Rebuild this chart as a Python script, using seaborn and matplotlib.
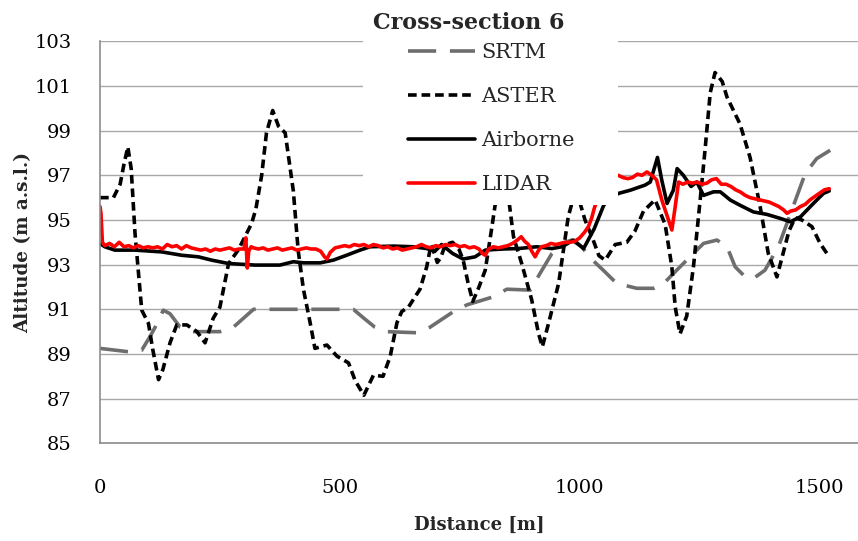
import matplotlib
matplotlib.use("Agg")
import matplotlib.pyplot as plt
from matplotlib.patches import Rectangle
import seaborn as sns
import pandas as pd

# ---- profile data: distance along section [m] and altitude [m a.s.l.] ----
srtm_distance = [0, 59, 87, 104, 115, 132, 146, 167, 195, 250, 278, 320, 354, 528, 550,
                 573, 598, 660, 688, 737, 765, 820, 848, 897, 917, 942, 963, 983, 1004,
                 1022, 1049, 1077, 1119, 1154, 1175, 1202, 1230, 1258, 1286, 1307, 1324,
                 1345, 1362, 1386, 1414, 1442, 1470, 1494, 1522]
srtm_altitude = [89.25, 89.1, 89.17, 89.77, 90.2, 90.96, 90.8, 90.2, 90.0, 90.0, 90.2, 91.0,
                 91.0, 91.0, 90.6, 90.2, 90.0, 89.95, 90.2, 90.9, 91.2, 91.56, 91.9, 91.86,
                 92.6, 93.5, 93.95, 94.1, 93.8, 93.3, 92.75, 92.16, 91.94, 91.94, 92.16,
                 92.75, 93.35, 93.95, 94.1, 93.8, 92.9, 92.45, 92.38, 92.75, 93.8, 95.44,
                 97.08, 97.75, 98.12]

aster_distance = [0, 28, 42, 50, 58, 65, 73, 87, 101, 110, 122, 131, 146, 160, 181, 202, 219,
                  236, 250, 268, 288, 316, 325, 337, 347, 360, 372, 386, 403, 413, 424, 438,
                  448, 473, 494, 518, 532, 550, 570, 590, 605, 619, 629, 643, 667, 681, 690,
                  697, 703, 710, 720, 735, 748, 757, 767, 777, 790, 803, 817, 830, 848, 862,
                  879, 900, 914, 922, 935, 956, 966, 976, 988, 1000, 1011, 1028, 1040, 1053,
                  1074, 1098, 1115, 1133, 1157, 1178, 1192, 1199, 1209, 1223, 1237, 1251,
                  1261, 1272, 1282, 1297, 1307, 1334, 1355, 1376, 1393, 1411, 1422, 1436,
                  1449, 1463, 1484, 1501, 1520]
aster_altitude = [96.0, 96.0, 96.6, 97.5, 98.27, 97.3, 94.4, 90.96, 90.37, 89.2, 87.85, 88.3,
                  89.5, 90.3, 90.3, 90.0, 89.5, 90.6, 91.1, 93.05, 93.65, 94.84, 95.5, 97.0,
                  98.9, 99.9, 99.2, 98.9, 96.3, 93.65, 91.9, 90.4, 89.25, 89.4, 88.9, 88.6,
                  87.8, 87.15, 88.05, 88.0, 88.9, 90.4, 90.9, 91.1, 91.9, 92.9, 93.9, 93.5,
                  93.1, 93.3, 93.9, 94.0, 93.7, 93.2, 92.2, 91.35, 92.0, 92.75, 94.7, 96.6,
                  96.6, 94.24, 93.05, 91.41, 89.92, 89.32, 90.37, 92.16, 93.65, 95.14, 96.1,
                  95.8, 95.0, 94.1, 93.4, 93.2, 93.9, 94.0, 94.5, 95.4, 95.9, 94.8, 92.9,
                  91.1, 89.9, 90.7, 92.9, 95.9, 98.1, 100.7, 101.6, 101.2, 100.5, 99.3, 97.8,
                  95.6, 93.5, 92.45, 93.35, 94.5, 95.1, 95.0, 94.7, 93.95, 93.35]

airborne_distance = [0, 10, 31, 73, 129, 170, 205, 233, 268, 323, 375, 403, 424, 459, 486,
                     514, 542, 563, 612, 653, 681, 698, 712, 735, 757, 782, 803, 840, 872,
                     910, 942, 963, 987, 1008, 1030, 1050, 1065, 1081, 1105, 1136, 1147,
                     1162, 1171, 1182, 1195, 1203, 1216, 1232, 1244, 1258, 1279, 1293, 1314,
                     1334, 1362, 1390, 1418, 1439, 1460, 1487, 1508, 1520]
airborne_altitude = [93.95, 93.8, 93.65, 93.65, 93.57, 93.42, 93.35, 93.2, 93.05, 92.98,
                     92.98, 93.13, 93.08, 93.08, 93.2, 93.42, 93.65, 93.8, 93.83, 93.8, 93.72,
                     93.6, 93.9, 93.5, 93.25, 93.35, 93.65, 93.7, 93.72, 93.8, 93.72, 93.8,
                     94.1, 93.72, 94.6, 95.66, 96.0, 96.19, 96.33, 96.56, 96.7, 97.8, 96.78,
                     95.74, 96.33, 97.3, 97.0, 96.5, 96.7, 96.1, 96.26, 96.26, 95.89, 95.66,
                     95.36, 95.25, 95.07, 94.92, 95.14, 95.74, 96.19, 96.3]

lidar_distance = [0, 2, 5, 10, 20, 30, 40, 50, 60, 70, 80, 90, 100, 110, 120, 130, 140, 150,
                  160, 170, 180, 190, 200, 210, 220, 230, 240, 250, 260, 270, 280, 290, 300,
                  304, 307, 310, 315, 320, 330, 340, 350, 360, 370, 380, 390, 400, 410, 420,
                  430, 440, 450, 460, 468, 473, 480, 490, 500, 510, 520, 530, 540, 550, 560,
                  570, 580, 590, 600, 610, 620, 630, 640, 650, 660, 670, 680, 690, 700, 710,
                  720, 730, 740, 750, 760, 770, 780, 790, 797, 803, 810, 820, 830, 840, 850,
                  860, 870, 878, 885, 893, 900, 907, 913, 920, 930, 940, 950, 960, 970, 980,
                  990, 1000, 1010, 1018, 1025, 1030, 1036, 1045, 1060, 1070, 1080, 1090, 1100,
                  1110, 1120, 1130, 1140, 1150, 1160, 1171, 1185, 1192, 1199, 1206, 1215,
                  1225, 1235, 1245, 1255, 1265, 1275, 1285, 1295, 1305, 1315, 1325, 1335,
                  1345, 1355, 1365, 1375, 1385, 1395, 1405, 1415, 1425, 1432, 1440, 1450,
                  1460, 1470, 1480, 1490, 1500, 1510, 1520]
lidar_altitude = [95.6, 95.3, 94.0, 93.85, 93.95, 93.8, 94.0, 93.8, 93.85, 93.75, 93.85, 93.75,
                  93.8, 93.75, 93.8, 93.7, 93.9, 93.8, 93.85, 93.7, 93.85, 93.75, 93.7, 93.65,
                  93.7, 93.6, 93.7, 93.65, 93.7, 93.75, 93.65, 93.7, 93.7, 94.2, 92.85, 93.6,
                  93.8, 93.75, 93.7, 93.75, 93.65, 93.7, 93.75, 93.65, 93.7, 93.75, 93.65,
                  93.7, 93.75, 93.7, 93.7, 93.6, 93.35, 93.25, 93.55, 93.75, 93.8, 93.85, 93.8,
                  93.9, 93.85, 93.9, 93.8, 93.9, 93.85, 93.75, 93.8, 93.7, 93.75, 93.65, 93.7,
                  93.75, 93.8, 93.9, 93.8, 93.75, 93.85, 93.8, 93.9, 93.85, 93.9, 93.8, 93.85,
                  93.75, 93.8, 93.7, 93.5, 93.42, 93.7, 93.8, 93.75, 93.8, 93.85, 93.95, 94.1,
                  94.25, 94.05, 93.9, 93.6, 93.35, 93.6, 93.8, 93.85, 93.95, 93.9, 93.95, 94.0,
                  94.0, 94.05, 94.2, 94.45, 94.7, 95.1, 95.5, 95.9, 96.4, 96.9, 97.0, 97.0,
                  96.9, 96.85, 96.9, 97.05, 97.0, 97.15, 97.0, 96.8, 95.9, 95.0, 94.55, 95.6,
                  96.7, 96.6, 96.7, 96.65, 96.7, 96.6, 96.65, 96.8, 96.85, 96.6, 96.6, 96.5,
                  96.35, 96.25, 96.1, 96.0, 95.95, 95.9, 95.85, 95.8, 95.7, 95.6, 95.45, 95.3,
                  95.4, 95.45, 95.6, 95.7, 95.9, 96.05, 96.2, 96.35, 96.4]

series_names = ["SRTM", "ASTER", "Airborne", "LIDAR"]
x_ticks = [0, 500, 1000, 1500]
y_ticks = [85, 87, 89, 91, 93, 95, 97, 99, 101, 103]

# ---- style ----
sns.set_style("white")
plt.rcParams["font.family"] = ["DejaVu Serif"]
plt.rcParams["font.size"] = 14

fig = plt.figure(figsize=(8.58, 5.41), dpi=100)
ax = fig.add_axes([100 / 858, 1 - 443.3 / 541, 758 / 858, 402 / 541])

frames = {
    "SRTM": pd.DataFrame({"distance": srtm_distance, "altitude": srtm_altitude}),
    "ASTER": pd.DataFrame({"distance": aster_distance, "altitude": aster_altitude}),
    "Airborne": pd.DataFrame({"distance": airborne_distance, "altitude": airborne_altitude}),
    "LIDAR": pd.DataFrame({"distance": lidar_distance, "altitude": lidar_altitude}),
}
styles = {
    "SRTM": dict(color="#6e6e6e", linestyle=(0, (7.8, 3.8))),
    "ASTER": dict(color="black", linestyle=(0, (2.4, 1.35))),
    "Airborne": dict(color="black", linestyle="-"),
    "LIDAR": dict(color="#ff0000", linestyle="-"),
}

for name in series_names:
    sns.lineplot(data=frames[name], x="distance", y="altitude", ax=ax,
                 estimator=None, errorbar=None, sort=False,
                 linewidth=2.6, label=name, **styles[name])

ax.set_xlim(0, 1580)
ax.set_ylim(85, 103)
ax.set_xticks(x_ticks)
ax.set_yticks(y_ticks)

ax.yaxis.grid(True, color="#a8a8a8", linewidth=1.0)
ax.xaxis.grid(False)
ax.set_axisbelow(True)
for side in ("top", "right"):
    ax.spines[side].set_visible(False)
for side in ("left", "bottom"):
    ax.spines[side].set_color("#8c8c8c")
    ax.spines[side].set_linewidth(1.2)

ax.tick_params(axis="both", direction="out", length=6.5, width=1.0,
               color="#8c8c8c", labelsize=14, labelcolor="black")
ax.tick_params(axis="x", pad=19)
ax.tick_params(axis="y", pad=14)

ax.set_xlabel("Distance [m]", fontsize=13, fontweight="bold", va="center")
ax.xaxis.set_label_coords(0.5, -0.203)
ax.set_ylabel("Altitude (m a.s.l.)", fontsize=13.2, fontweight="bold", va="center")
ax.yaxis.set_label_coords(-(100 - 23) / 758, 0.5)

# white backing behind the legend block
ax.add_patch(Rectangle((0.347, 0.593), 0.336, 0.45, transform=ax.transAxes,
                       facecolor="white", edgecolor="none", zorder=4, clip_on=False))

handles, labels = ax.get_legend_handles_labels()
leg = ax.legend(handles, labels, loc="upper left",
                bbox_to_anchor=(408 / 858, 1 - 43.5 / 541), bbox_transform=fig.transFigure,
                frameon=False, fontsize=15, borderpad=0, borderaxespad=0,
                handlelength=3.2, handletextpad=0.33, labelspacing=1.2)
leg.set_zorder(6)

fig.text(469 / 858, 1 - 23 / 541, "Cross-section 6", ha="center", va="center",
         fontsize=16, fontweight="bold")

fig.savefig("out.png", dpi=100)
